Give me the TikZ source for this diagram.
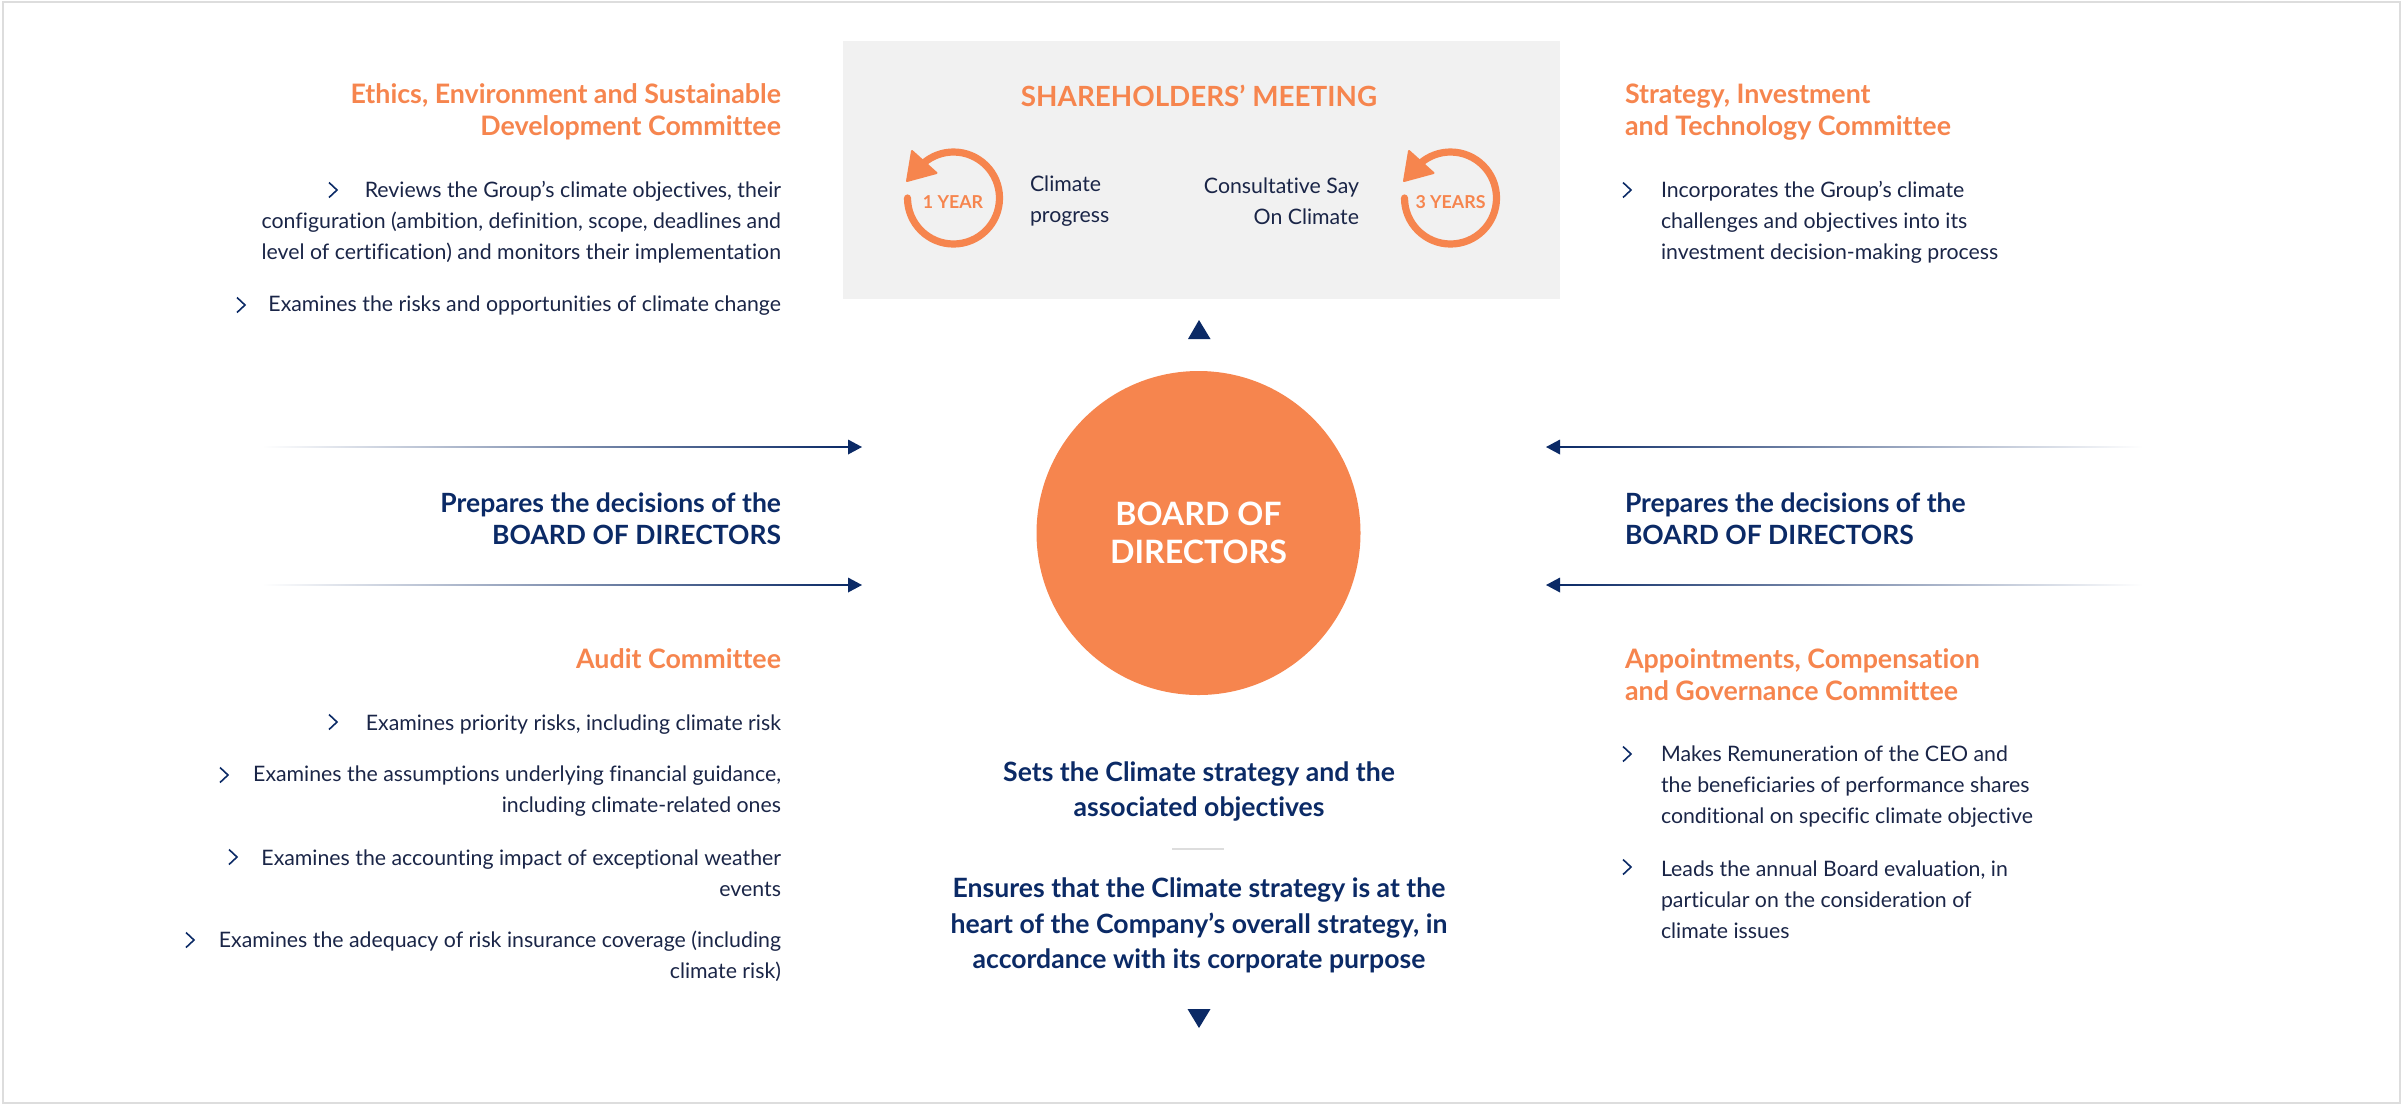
\documentclass[tikz,border=0pt]{standalone}
\usepackage{fontspec}
\setmainfont[Ligatures=NoCommon]{Lato}
\usetikzlibrary{calc}
\definecolor{orng}{HTML}{F6854E}
\definecolor{navy}{HTML}{0B2A66}
\definecolor{ink}{HTML}{1A2547}
\definecolor{boxg}{HTML}{F1F1F1}
\definecolor{framec}{HTML}{DDDDDD}
\tikzset{
  every node/.style={inner sep=0pt,outer sep=0pt},
  body/.style={text=ink,font=\fontsize{10.65}{15.5}\selectfont},
  ctitle/.style={text=orng,font=\fontsize{13.4}{16}\selectfont\bfseries},
  prep/.style={text=navy,font=\fontsize{13.25}{16}\selectfont\bfseries},
  mid/.style={text=navy,font=\fontsize{13.3}{17.6}\selectfont\bfseries,align=center},
  yr/.style={text=orng,font=\fontsize{8.9}{10}\selectfont\bfseries},
  chevline/.style={navy,line width=0.8pt},
  ring/.style={orng,line width=3.6pt,line cap=round},
  ringhead/.style={fill=orng,draw=orng,line width=1pt,line join=round},
  tri/.style={fill=navy},
}
\newcommand{\chev}[2]{\draw[chevline] (#1-4,#2-7.5) -- (#1+4,#2) -- (#1-4,#2+7.5);}
\begin{document}
\begin{tikzpicture}[x=0.5pt,y=-0.5pt]
\useasboundingbox (0,0) rectangle (2402,1105);
\draw[framec,line width=0.6pt] (3,2) rectangle (2400,1103);
\fill[boxg] (843,41) rectangle (1560,299);

% Shareholders
\node[ctitle,font=\fontsize{13.9}{16}\selectfont\bfseries] (sm) at (1199,96) {SHAREHOLDERS’ MEETING};
\node[yr] (y1) at (953,202) {1 YEAR};
\node[yr] (y3) at (1450.5,202) {3 YEARS};
\coordinate (c1) at (953.5,198);
\coordinate (c3) at (1450.5,198);
\foreach \c in {c1,c3}{
  \draw[ring] (\c) ++(-46,0) arc[start angle=180,end angle=490,radius=23pt];
  \fill[ringhead] ($(\c)+(-41.5,-47)$) -- ($(\c)+(-46.5,-17)$) -- ($(\c)+(-17,-25)$) -- cycle;
}
\node[body,align=left,anchor=west] (cp) at (1030,201) {Climate\\progress};
\node[body,align=right,anchor=east] (cs) at (1359,201) {Consultative Say\\On Climate};

% Board
\node[circle,fill=orng,minimum size=162pt,text=white,align=center,font=\fontsize{16.1}{19}\selectfont\bfseries] (board) at (1198.5,533) {\raisebox{-1pt}{BOARD OF}\\\raisebox{-1pt}{DIRECTORS}};

% Triangles
\fill[tri] (1199,320) -- (1210.5,339) -- (1188,339) -- cycle;
\fill[tri] (1187.5,1009) -- (1210.5,1009) -- (1199,1028) -- cycle;

% Side arrows
\foreach \yy in {447,585}{
  \coordinate (ls) at (262,\yy); \coordinate (lb) at (848,\yy); \coordinate (lt) at (862,\yy);
  \shade[left color=white,right color=navy,draw=none] ($(ls)+(0,-0.8)$) rectangle ($(lb)+(0,0.8)$);
  \fill[tri] (lt) -- ($(lb)+(0,-7.5)$) -- ($(lb)+(0,7.5)$) -- cycle;
  \coordinate (rs) at (2143,\yy); \coordinate (rb) at (1560,\yy); \coordinate (rt) at (1546,\yy);
  \shade[left color=navy,right color=white,draw=none] ($(rb)+(0,-0.8)$) rectangle ($(rs)+(0,0.8)$);
  \fill[tri] (rt) -- ($(rb)+(0,-7.5)$) -- ($(rb)+(0,7.5)$) -- cycle;
}

% Left-top
\node[ctitle,align=right,anchor=east] (t1) at (781,112) {Ethics, Environment and Sustainable\\Development Committee};
\node[body,align=right,anchor=east] (b1) at (781,222) {Reviews the Group’s climate objectives, their\\configuration (ambition, definition, scope, deadlines and\\level of certification) and monitors their implementation};
\chev{333}{190}
\node[body,anchor=east] (b2) at (781,305.5) {Examines the risks and opportunities of climate change};
\chev{241}{305}
\node[prep,align=right,anchor=east] (p1) at (781,519) {Prepares the decisions of the\\BOARD OF DIRECTORS};

% Audit
\node[ctitle,anchor=east] (t2) at (781,659) {Audit Committee};
\node[body,anchor=east] (a1) at (781,724.5) {Examines priority risks, including climate risk};
\chev{333}{722}
\node[body,align=right,anchor=east] (a2) at (781,791.5) {Examines the assumptions underlying financial guidance,\\including climate-related ones};
\chev{224}{775}
\node[body,align=right,anchor=east] (a3) at (781,873.5) {Examines the accounting impact of exceptional weather\\events};
\chev{233}{857}
\node[body,align=right,anchor=east] (a4) at (781,956.5) {Examines the adequacy of risk insurance coverage (including\\climate risk)};
\chev{190}{940}

% Right-top
\node[ctitle,align=left,anchor=west] (t3) at (1625,112) {Strategy, Investment\\and Technology Committee};
\node[body,align=left,anchor=west] (r1) at (1661,222) {Incorporates the Group’s climate\\challenges and objectives into its\\investment decision-making process};
\chev{1627}{190}
\node[prep,align=left,anchor=west] (p2) at (1625,519) {Prepares the decisions of the\\BOARD OF DIRECTORS};
\node[ctitle,align=left,anchor=west] (t4) at (1625,675) {Appointments, Compensation\\and Governance Committee};
\node[body,align=left,anchor=west] (r2) at (1661,786.5) {Makes Remuneration of the CEO and\\the beneficiaries of performance shares\\conditional on specific climate objective};
\chev{1627}{754}
\node[body,align=left,anchor=west] (r3) at (1661,899.5) {Leads the annual Board evaluation, in\\particular on the consideration of\\climate issues};
\chev{1627}{867}

% Centre text
\node[mid] (m1) at (1199,791.5) {Sets the Climate strategy and the\\associated objectives};
\draw[framec,line width=0.6pt] (1172,849) -- (1224,849);
\node[mid] (m2) at (1199,925.5) {Ensures that the Climate strategy is at the\\heart of the Company’s overall strategy, in\\accordance with its corporate purpose};
\end{tikzpicture}
\end{document}
